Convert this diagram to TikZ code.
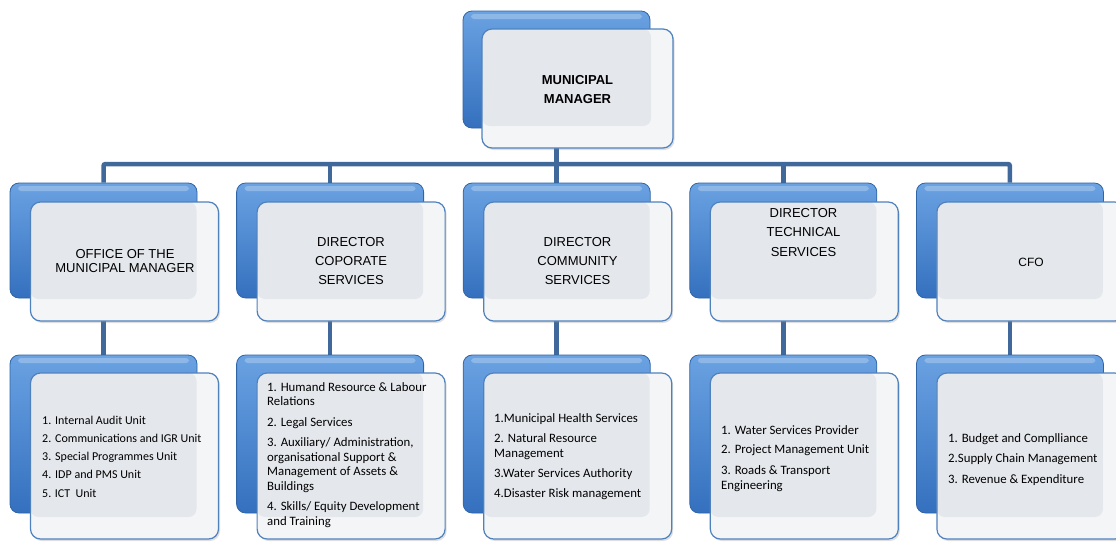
\documentclass[tikz,border=0pt]{standalone}
\usepackage{fontspec}
\setmainfont{Liberation Sans}
\newfontfamily\listfont{Carlito}
\usetikzlibrary{backgrounds,shadows}

\definecolor{backtop}{HTML}{6AA2E2}
\definecolor{backbot}{HTML}{3470BE}
\definecolor{backline}{HTML}{2F64A6}
\definecolor{frontline}{HTML}{4F81BD}
\definecolor{frontrim}{HTML}{F3F5F7}
\definecolor{frontcore}{HTML}{E4E7EC}
\definecolor{linkblue}{HTML}{41689A}

\tikzset{
  backbox/.style={rectangle, rounded corners=9pt, minimum width=187pt,
    minimum height=#1, inner sep=0pt, draw=backline, line width=0.8pt,
    top color=backtop, bottom color=backbot,
    path picture={
      \fill[white, opacity=0.25, rounded corners=3pt]
        ([xshift=8pt,yshift=-3pt]path picture bounding box.north west) rectangle
        ([xshift=-8pt,yshift=-8pt]path picture bounding box.north east);
    }},
  frontbox/.style={rectangle, rounded corners=10pt, minimum width=188pt,
    minimum height=#1, inner sep=0pt, draw=frontline, line width=1.2pt,
    fill=frontrim,
    drop shadow={shadow xshift=1.5pt, shadow yshift=-2pt, opacity=0.25},
    path picture={
      \fill[frontcore, rounded corners=8pt]
        (path picture bounding box.north west) rectangle
        ([xshift=-22pt,yshift=22pt]path picture bounding box.south east);
    }},
  headtext/.style={align=center, inner sep=0pt, text=black},
  listtext/.style={align=left, anchor=west, inner sep=0pt, text=black,
    font=\listfont\fontsize{12.8}{14.5}\selectfont},
  link/.style={draw=linkblue, line width=4.5pt, rounded corners=2pt}
}

\begin{document}
\begin{tikzpicture}[x=1pt, y=-1pt]
  \useasboundingbox (0,0) rectangle (1116,544);

  % Municipal Manager
  \node[backbox=117pt] (mmb) at (556.5,69.5) {};
  \node[frontbox=119pt, minimum width=191pt] (mm) at (577.5,88.5) {};
  \node[headtext, font=\bfseries\fontsize{13}{19}\selectfont] (mmt) at (577.5,89.5) {MUNICIPAL\\MANAGER};

  % Second row: heads of department
  \node[backbox=115pt] (offb) at (103.5,240.5) {};
  \node[frontbox=119pt] (off) at (124.5,261.5) {};
  \node[headtext, font=\fontsize{13}{14}\selectfont] (offt) at (125,261) {OFFICE OF THE\\MUNICIPAL MANAGER};

  \node[backbox=115pt] (corb) at (330.1,240.5) {};
  \node[frontbox=119pt] (cor) at (351.1,261.5) {};
  \node[headtext, font=\fontsize{13}{19}\selectfont] (cort) at (351,261) {DIRECTOR\\COPORATE\\SERVICES};

  \node[backbox=115pt] (comb) at (556.7,240.5) {};
  \node[frontbox=119pt] (com) at (577.7,261.5) {};
  \node[headtext, font=\fontsize{13}{19}\selectfont] (comt) at (577.5,261) {DIRECTOR\\COMMUNITY\\SERVICES};

  \node[backbox=115pt] (tecb) at (783.3,240.5) {};
  \node[frontbox=119pt] (tec) at (804.3,261.5) {};
  \node[headtext, font=\fontsize{13}{19.5}\selectfont] (tect) at (803.5,232.5) {DIRECTOR\\TECHNICAL\\SERVICES};

  \node[backbox=115pt] (cfob) at (1009.9,240.5) {};
  \node[frontbox=119pt] (cfo) at (1030.9,261.5) {};
  \node[headtext, font=\fontsize{12}{14}\selectfont] (cfot) at (1031,262) {CFO};

  % Third row: units of each department
  \node[backbox=158pt] (off3b) at (103.5,434) {};
  \node[frontbox=166pt] (off3) at (124.5,456) {};
  \node[listtext, font=\listfont\fontsize{12}{18.3}\selectfont] (off3t) at (42,456.5) {%
    \makebox[13pt][l]{1.}Internal Audit Unit\\
    \makebox[13pt][l]{2.}Communications and IGR Unit\\
    \makebox[13pt][l]{3.}Special Programmes Unit\\
    \makebox[13pt][l]{4.}IDP and PMS Unit\\
    5. ICT\ \ Unit};

  \node[backbox=158pt] (cor3b) at (330.1,434) {};
  \node[frontbox=166pt] (cor3) at (351.1,456) {};
  \node[listtext] (cor3t) at (267,455) {%
    1. Humand Resource \& Labour\\ Relations\\[6pt]
    2. Legal Services\\[6pt]
    3. Auxiliary/ Administration,\\ organisational Support \&\\ Management of Assets \&\\ Buildings\\[6pt]
    4. Skills/ Equity Development\\ and Training};

  \node[backbox=158pt] (com3b) at (556.7,434) {};
  \node[frontbox=166pt] (com3) at (577.7,456) {};
  \node[listtext] (com3t) at (494,456.5) {%
    1.Municipal Health Services\\[5.5pt]
    2. Natural Resource\\ Management\\[5.5pt]
    3.Water Services Authority\\[5.5pt]
    4.Disaster Risk management};

  \node[backbox=158pt] (tec3b) at (783.3,434) {};
  \node[frontbox=166pt] (tec3) at (804.3,456) {};
  \node[listtext] (tec3t) at (721,458.5) {%
    1. Water Services Provider\\[5pt]
    2. Project Management Unit\\[6.5pt]
    3. Roads \& Transport\\ Engineering};

  \node[backbox=158pt] (cfo3b) at (1009.9,434) {};
  \node[frontbox=166pt] (cfo3) at (1030.9,456) {};
  \node[listtext] (cfo3t) at (948,459.5) {%
    1. Budget and Complliance\\[6pt]
    2.Supply Chain Management\\[6pt]
    3. Revenue \& Expenditure};

  % Reporting lines, drawn behind the boxes
  \coordinate (bus) at (556.5,164);
  \begin{pgfonlayer}{background}
    \draw[link] (mmb.center) -- (mmb.center |- bus);
    \draw[link] (offb.north) |- (bus) -| (cfob.north);
    \draw[link] (corb.north) -- (corb.north |- bus);
    \draw[link] (comb.north) -- (comb.north |- bus);
    \draw[link] (tecb.north) -- (tecb.north |- bus);
    \draw[link] (offb.center) -- (off3b.north);
    \draw[link] (corb.center) -- (cor3b.north);
    \draw[link] (comb.center) -- (com3b.north);
    \draw[link] (tecb.center) -- (tec3b.north);
    \draw[link] (cfob.center) -- (cfo3b.north);
  \end{pgfonlayer}
\end{tikzpicture}
\end{document}
